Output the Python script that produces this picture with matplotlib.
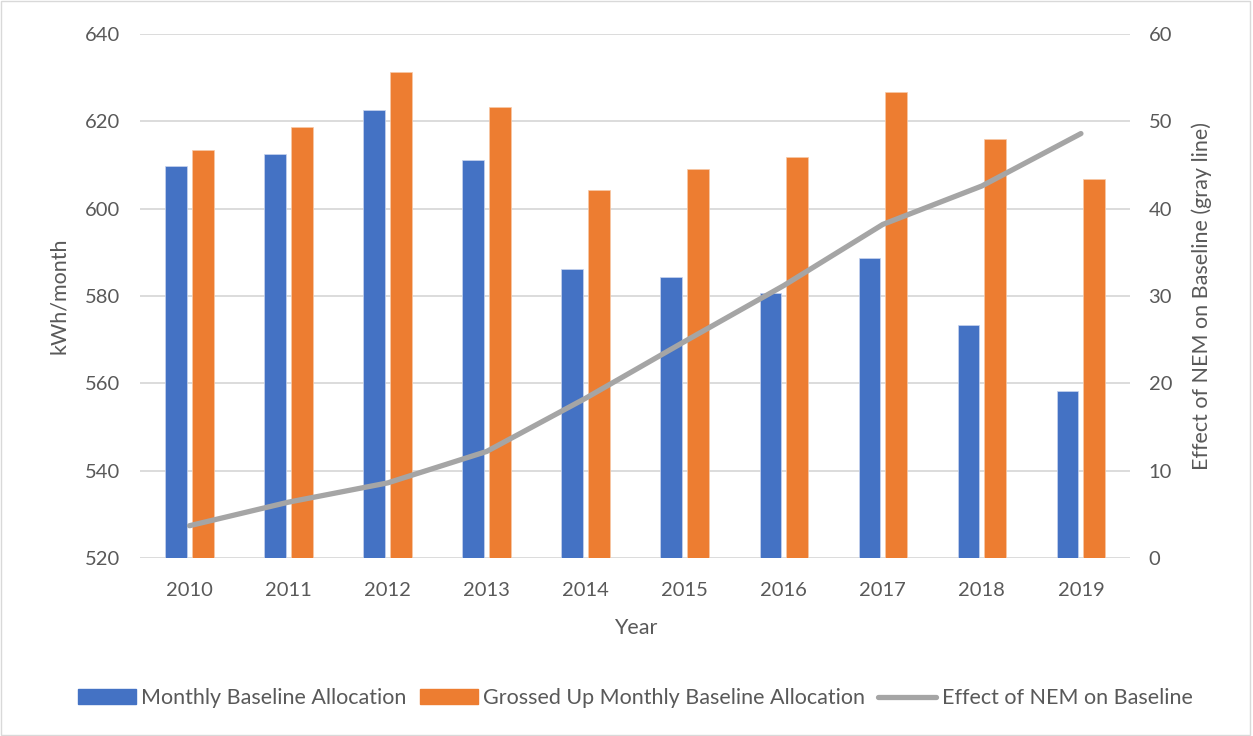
import numpy as np
import matplotlib.pyplot as plt
from matplotlib.patches import Rectangle, Patch
from matplotlib.lines import Line2D

years = ["2010", "2011", "2012", "2013", "2014", "2015", "2016", "2017", "2018", "2019"]
baseline = [609.8, 612.6, 622.6, 611.2, 586.2, 584.3, 580.6, 588.8, 573.4, 558.3]
grossed_up = [613.5, 618.7, 631.3, 623.3, 604.3, 609.2, 611.9, 626.8, 615.9, 606.8]
nem_effect = [3.7, 6.4, 8.6, 12.2, 18.3, 24.8, 31.2, 38.2, 42.6, 48.6]

blue = "#4472C4"
orange = "#ED7D31"
gray = "#A5A5A5"
text_col = "#595959"

plt.rcParams["font.family"] = ["Lato", "DejaVu Sans"]

fig = plt.figure(figsize=(12.53, 7.36), dpi=100)
ax = fig.add_axes([0.1117, 0.2418, 0.7905, 0.712])
ax2 = ax.twinx()

x = np.arange(len(years))
w = 0.22
off = 0.135
ax.bar(x - off, baseline, w, color=blue, edgecolor="#c8d4ee", linewidth=0.5, zorder=2)
ax.bar(x + off, grossed_up, w, color=orange, edgecolor="#f7c9a8", linewidth=0.5, zorder=2)
ax2.plot(x, nem_effect, color=gray, lw=3.8, solid_capstyle="round", zorder=3)

ax.set_ylim(520, 640)
ax.set_yticks(range(520, 641, 20))
ax2.set_ylim(0, 60)
ax2.set_yticks(range(0, 61, 10))
ax.set_xlim(-0.5, len(years) - 0.5)
ax.set_xticks(x)
ax.set_xticklabels(years)

ax.grid(axis="y", color="#D9D9D9", lw=1.3, zorder=0)
ax.set_axisbelow(True)
for a in (ax, ax2):
    for s in a.spines.values():
        s.set_visible(False)
    a.tick_params(length=0, labelsize=14.5, colors=text_col)
ax.tick_params(axis="x", pad=17)
ax.tick_params(axis="y", pad=14)
ax2.tick_params(axis="y", pad=13)

ax.set_xlabel("Year", fontsize=15.5, color=text_col, labelpad=14)
ax.set_ylabel("kWh/month", fontsize=15.5, color=text_col, labelpad=12)
ax2.set_ylabel("Effect of NEM on Baseline (gray line)", fontsize=15.5, color=text_col, labelpad=14)

handles = [
    Patch(color=blue),
    Patch(color=orange),
    Line2D([0], [0], color=gray, lw=3.8, solid_capstyle="round"),
]
labels = ["Monthly Baseline Allocation", "Grossed Up Monthly Baseline Allocation", "Effect of NEM on Baseline"]
leg = fig.legend(handles, labels, loc="center", bbox_to_anchor=(0.507, 0.051), ncol=3,
                 frameon=False, fontsize=15.5, handlelength=2.7, handletextpad=0.25, columnspacing=0.6)
for t in leg.get_texts():
    t.set_color(text_col)

fig.patches.append(Rectangle((0.001, 0.001), 0.997, 0.997, transform=fig.transFigure,
                             fill=False, edgecolor="#D9D9D9", lw=1))

fig.savefig("out.png", dpi=100)
